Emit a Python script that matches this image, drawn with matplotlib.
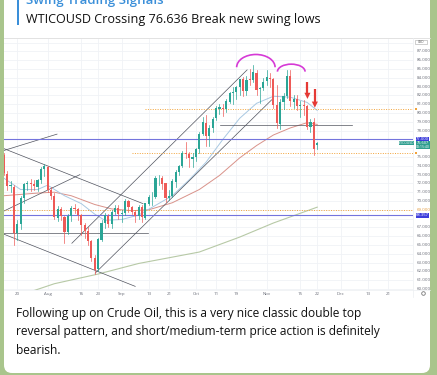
import matplotlib
matplotlib.use('Agg')
import matplotlib.pyplot as plt
from matplotlib.patches import Rectangle, FancyBboxPatch, Arc, Polygon
from matplotlib.transforms import blended_transform_factory

plt.rcParams['font.family'] = ['Open Sans', 'DejaVu Sans']

# daily candles, one per weekday, Jul 14 .. Nov 22 (2021)
opens = [75.25, 73.10, 71.70, 71.60, 66.40, 67.40, 70.30, 71.90, 72.00, 71.90,
         71.60, 72.40, 73.60, 73.90, 71.30, 70.60, 68.10, 69.10, 68.20, 66.50,
         68.30, 69.20, 69.10, 68.40, 67.30, 66.60, 65.40, 63.50, 62.30, 65.60,
         67.50, 68.30, 67.40, 68.70, 69.20, 68.50, 68.60, 70.00, 69.30, 68.80,
         68.30, 69.30, 68.10, 69.70, 70.40, 70.50, 72.60, 72.60, 72.00, 70.30,
         70.60, 72.20, 73.30, 74.00, 75.40, 75.30, 74.80, 75.00, 75.90, 77.60,
         78.90, 77.40, 78.30, 79.40, 80.50, 80.60, 80.40, 81.30, 82.30, 82.40,
         83.00, 83.90, 82.50, 83.80, 83.80, 84.60, 82.70, 82.80, 83.60, 84.00,
         83.90, 80.90, 78.80, 81.30, 81.90, 84.20, 81.30, 81.60, 80.80, 80.90,
         80.80, 78.40, 79.00, 76.36]
highs = [75.50, 73.40, 72.30, 71.80, 67.80, 70.60, 72.10, 72.30, 72.50, 72.40,
         72.50, 73.90, 74.20, 74.00, 71.60, 70.90, 69.40, 69.30, 68.30, 68.50,
         69.40, 69.70, 69.20, 68.50, 67.50, 67.00, 65.60, 63.90, 65.80, 67.80,
         68.60, 68.50, 69.00, 69.60, 69.50, 69.00, 70.20, 70.10, 69.40, 69.00,
         69.60, 69.50, 69.80, 70.70, 71.00, 72.80, 73.00, 72.80, 72.00, 71.30,
         72.50, 73.50, 74.10, 75.70, 76.70, 75.60, 75.40, 76.00, 77.80, 79.50,
         79.80, 78.60, 79.60, 80.80, 81.00, 81.00, 81.60, 82.40, 83.00, 83.10,
         83.90, 84.10, 84.20, 85.00, 85.40, 84.90, 83.00, 84.00, 84.90, 84.60,
         84.00, 83.20, 81.60, 82.30, 84.90, 84.90, 82.00, 82.00, 81.40, 81.50,
         80.90, 79.30, 79.40, 76.73]
lows = [72.90, 71.20, 71.00, 65.00, 65.60, 66.80, 69.80, 71.20, 71.10, 71.20,
        71.10, 72.00, 72.80, 71.00, 70.20, 67.90, 67.70, 67.80, 65.20, 66.20,
        67.70, 68.60, 67.80, 66.10, 65.80, 65.00, 63.20, 61.70, 62.00, 65.50,
        66.90, 67.00, 66.90, 68.50, 67.90, 67.60, 68.40, 68.80, 68.50, 67.60,
        68.00, 67.60, 67.90, 69.50, 69.60, 70.30, 71.80, 71.40, 69.90, 70.10,
        70.40, 71.60, 72.90, 73.90, 74.90, 73.90, 73.90, 74.50, 75.40, 77.50,
        76.30, 76.30, 77.80, 79.20, 79.90, 79.70, 80.10, 81.10, 81.00, 81.60,
        82.00, 81.90, 82.00, 83.20, 83.50, 82.00, 81.10, 82.60, 83.20, 83.00,
        80.60, 78.30, 78.20, 80.50, 81.70, 80.80, 80.60, 80.30, 79.60, 79.80,
        78.20, 77.80, 75.20, 75.88]
closes = [73.13, 71.65, 71.81, 66.42, 67.42, 70.30, 71.91, 72.07, 71.91, 71.65,
          72.39, 73.62, 73.95, 71.26, 70.56, 68.15, 69.09, 68.28, 66.48, 68.29,
          69.25, 69.09, 68.44, 67.29, 66.59, 65.46, 63.50, 62.14, 65.64, 67.54,
          68.36, 67.42, 68.74, 69.21, 68.50, 68.59, 69.99, 69.29, 68.75, 68.35,
          69.30, 68.14, 69.72, 70.45, 70.46, 72.61, 72.61, 71.97, 70.29, 70.56,
          72.23, 73.30, 73.98, 75.45, 75.29, 74.83, 75.03, 75.88, 77.62, 78.93,
          77.43, 78.30, 79.35, 80.52, 80.64, 80.44, 81.31, 82.28, 82.44, 83.00,
          83.87, 82.50, 83.76, 83.76, 84.65, 82.66, 82.81, 83.57, 84.05, 83.91,
          80.86, 78.81, 81.27, 81.93, 84.15, 81.34, 81.59, 80.79, 80.88, 80.76,
          78.36, 79.01, 75.94, 76.61]

# moving averages (candle index, value)
ema20_idx = [0, 5, 10, 13, 18, 23, 27, 30, 35, 40, 45, 50, 55, 60, 65, 70, 75, 80, 85, 90, 93]
ema20_val = [72.6, 71.3, 71.3, 71.8, 70.6, 69.7, 68.5, 67.8, 67.9, 68.4, 69.5, 70.6, 72.4,
             74.4, 77.0, 79.4, 81.1, 81.9, 81.8, 81.2, 80.3]
ema50_idx = [0, 10, 15, 20, 27, 32, 38, 43, 50, 58, 64, 70, 75, 80, 85, 90, 93]
ema50_val = [70.6, 70.9, 71.0, 70.6, 69.6, 69.1, 68.9, 69.0, 69.8, 71.3, 72.9, 74.9, 76.3,
             77.5, 78.3, 78.9, 78.7]
ema200_idx = [5, 8, 15, 28, 40, 58, 70, 80, 93]
ema200_val = [59.3, 59.7, 60.6, 61.7, 62.9, 64.2, 65.9, 67.5, 69.3]

# drawn trend lines ((i0, p0), (i1, p1))
trendlines = [((-0.3, 75.7), (15.8, 77.6)),
              ((-0.3, 76.0), (41.3, 69.7)),
              ((-0.3, 68.8), (22.6, 73.0)),
              ((-1.1, 66.4), (39.0, 60.3)),
              ((-0.3, 66.4), (42.8, 66.4)),
              ((20.2, 65.2), (72.2, 84.9)),
              ((27.1, 61.8), (79.5, 81.5)),
              ((64.2, 78.6), (103.3, 78.6))]
blue_levels = [77.0, 68.357]
orange_levels = [80.45, 75.5, 69.0]
orange_start = [42, 38, -1]

date_idx = [4, 13, 23, 28, 35, 43, 49, 57, 63, 69, 78, 88, 93, 100, 108, 114]
date_txt = ['20', 'Aug', '16', '23', 'Sep', '13', '21', 'Oct', '11', '19', 'Nov',
            '15', '22', 'Dec', '13', '21']
price_ticks = list(range(60, 89))

W, H = 437, 375
fig = plt.figure(figsize=(W / 100, H / 100), dpi=100)
fig.patch.set_facecolor('#a9c58c')

# pixel canvas for the message bubble
bg = fig.add_axes([0, 0, 1, 1])
bg.set_xlim(0, W)
bg.set_ylim(H, 0)
bg.axis('off')
bg.add_patch(FancyBboxPatch((4, -20), 426, 393, boxstyle='round,pad=0,rounding_size=8',
                            fc='white', ec='none'))
bg.add_patch(Rectangle((16.5, -2), 2.5, 27, fc='#3a8fd9', ec='none'))
bg.text(26, 4, 'Swing Trading Signals', fontsize=9.5, color='#3a8fd9',
        fontweight='semibold', va='baseline')
bg.text(26, 22.5, 'WTICOUSD Crossing 76.636 Break new swing lows', fontsize=9.05,
        color='#111111', va='baseline')
caption = ['Following up on Crude Oil, this is a very nice classic double top',
           'reversal pattern, and short/medium-term price action is definitely',
           'bearish.']
for k, line in enumerate(caption):
    bg.text(16, 317 + 18.3 * k, line, fontsize=8.65, color='#111111', va='baseline')
bg.plot([4, 430], [37.5, 37.5], color='#dddddd', lw=0.6)

# chart
L, R, T, B = 4, 413, 39, 290
ax = fig.add_axes([L / W, 1 - B / H, (R - L) / W, (B - T) / H])
x0, px = 3.8, 3.37
ax.set_xlim((L - x0) / px, (R - x0) / px)
ax.set_ylim(60 - (B - 289) / 8.8, 60 + (289 - T) / 8.8)
ax.set_facecolor('white')
for s in ax.spines.values():
    s.set_visible(False)
ax.set_xticks([])
ax.set_yticks([])
for d in date_idx:
    ax.axvline(d, color='#f0f2f6', lw=0.6, zorder=0)
for p in price_ticks:
    ax.axhline(p, color='#f0f2f6', lw=0.6, zorder=0)

ax.plot(ema200_idx, ema200_val, color='#b7c9a6', lw=0.8, zorder=1)
ax.plot(ema50_idx, ema50_val, color='#d9928a', lw=0.7, zorder=1)
ax.plot(ema20_idx, ema20_val, color='#a8c8e2', lw=0.7, zorder=1)

for (a, b) in trendlines:
    ax.plot([a[0], b[0]], [a[1], b[1]], color='#50535e', lw=0.5, zorder=2)
for lv in blue_levels:
    ax.axhline(lv, color='#7474dd', lw=0.8, zorder=2)
for lv, st in zip(orange_levels, orange_start):
    ax.plot([st, 122], [lv, lv], color='#f2a33a', lw=0.7, ls=(0, (1, 1.5)), zorder=2)

for i in range(len(closes)):
    up = closes[i] >= opens[i]
    c = '#2aa596' if up else '#ee5a57'
    ax.plot([i, i], [lows[i], highs[i]], color=c, lw=0.5, zorder=3)
    lo, hi = min(opens[i], closes[i]), max(opens[i], closes[i])
    ax.add_patch(Rectangle((i - 0.32, lo), 0.64, max(hi - lo, 0.06), fc=c, ec='none', zorder=4))

# double top arcs
ax.add_patch(Arc((74.8, 85.2), 11.4, 2.9, theta1=0, theta2=180, color='#d63ad6', lw=1.2, zorder=5))
ax.add_patch(Arc((85.3, 84.7), 8.2, 1.7, theta1=0, theta2=180, color='#d63ad6', lw=1.2, zorder=5))

# red arrows
for xi, ytop, ybot in [(90.1, 83.5, 81.6), (92.3, 82.7, 80.6)]:
    ax.plot([xi, xi], [ytop, ybot + 0.6], color='#e53935', lw=1.6, zorder=6, solid_capstyle='butt')
    ax.add_patch(Polygon([[xi - 0.9, ybot + 0.7], [xi + 0.9, ybot + 0.7], [xi, ybot]],
                         closed=True, fc='#e53935', ec='none', zorder=6))

# price scale
tr = blended_transform_factory(bg.transData, ax.transData)
hidden = {68, 76, 77, 88}
for p in price_ticks:
    if p in hidden:
        continue
    col = '#e39a3c' if p == 69 else '#6a6d78'
    ax.text(424, p, '%d.000' % p, transform=tr, fontsize=3.2, color=col,
            ha='center', va='center', clip_on=False)
for lv, txt in [(77.0, '77.000'), (68.357, '68.357')]:
    ax.add_patch(Rectangle((415.5, lv - 0.28), 13, 0.56, transform=tr, fc='#3d3ddb',
                           ec='none', clip_on=False, zorder=7))
    ax.text(422, lv, txt, transform=tr, fontsize=3, color='white', ha='center',
            va='center', clip_on=False, zorder=8)
ax.add_patch(Rectangle((415.5, 75.9), 14.5, 0.9, transform=tr, fc='#2f9e8f', ec='none',
                       clip_on=False, zorder=7))
ax.text(422.5, 76.6, '76.607', transform=tr, fontsize=2.8, color='white', ha='center',
        va='center', clip_on=False, zorder=8)
ax.text(422.5, 76.15, '03:15:40', transform=tr, fontsize=2.5, color='white', ha='center',
        va='center', clip_on=False, zorder=8)
ax.add_patch(Rectangle((398.5, 76.38), 15.5, 0.4, transform=tr, fc='#2f9e8f', ec='none',
                       clip_on=False, zorder=7))
ax.text(406, 76.58, 'WTICOUSD', transform=tr, fontsize=2.4, color='white', ha='center',
        va='center', clip_on=False, zorder=8)
for lv in [80.45, 75.5]:
    ax.add_patch(Rectangle((414.6, lv - 0.12), 2, 0.24, transform=tr, fc='#f2a33a',
                           ec='none', clip_on=False, zorder=7))

# time scale
trx = blended_transform_factory(ax.transData, bg.transData)
for d, t in zip(date_idx, date_txt):
    bg.text(d, 293.8, t, transform=trx, fontsize=3.2, color='#6a6d78', ha='center', va='center')
bg.add_patch(plt.Circle((423.5, 293.5), 1.8, fc='none', ec='#777777', lw=0.6))
bg.plot([413, 413], [38, 297], color='#eceef2', lw=0.5)
bg.plot([4, 430], [290, 290], color='#eceef2', lw=0.5)
bg.add_patch(Rectangle((415, 40), 12, 4, fc='white', ec='#aaaaaa', lw=0.4))
bg.text(421, 42, 'USD', fontsize=2.3, color='#555555', ha='center', va='center')

# legend in the top-left corner of the chart
bg.text(6, 42.3, 'West Texas Oil · 1D · OANDA', fontsize=2.9, color='#555555', va='center')
bg.add_patch(plt.Circle((58.5, 42.3), 1.1, fc='#26a69a', ec='none'))
bg.text(64, 42.3, 'O76.356 H76.728 L75.877 C76.607 −0.113 (−0.15%)', fontsize=2.9,
        color='#26a69a', va='center')
bg.add_patch(Rectangle((5, 46.8), 13, 4.4, fc='white', ec='#ef5350', lw=0.4))
bg.text(11.5, 49, '76.495', fontsize=2.6, color='#ef5350', ha='center', va='center')
bg.text(21, 49, '0', fontsize=2.6, color='#555555', ha='center', va='center')
bg.add_patch(Rectangle((24.5, 46.8), 13, 4.4, fc='white', ec='#2962ff', lw=0.4))
bg.text(31, 49, '76.532', fontsize=2.6, color='#2962ff', ha='center', va='center')
leg = [(55.7, 'EMA 200 close', '69.296', '#43a047'),
       (61.3, 'EMA 50 close', '78.668', '#e53935'),
       (67.7, 'Vol', '', '#555555'),
       (73.3, 'EMA 20 close', '80.177', '#1e88e5'),
       (79.0, 'BB 20 2 close true range', '', '#aaaaaa'),
       (85.0, 'BB 20 close 2', '', '#aaaaaa')]
for y, name, val, col in leg:
    nc = '#aaaaaa' if name.startswith('BB') else '#555555'
    bg.text(6, y, name + ' ', fontsize=2.3, color=nc, va='center')
    if val:
        bg.annotate(val, xy=(1, 0.5), xycoords=bg.texts[-1], fontsize=2.3, color=col,
                    va='center', ha='left')
bg.add_patch(Rectangle((5.5, 88.8), 6, 4, fc='white', ec='#bbbbbb', lw=0.4))
bg.text(8.5, 90.6, 'v', fontsize=2.5, color='#555555', ha='center', va='center')

fig.savefig('out.png', dpi=100)
